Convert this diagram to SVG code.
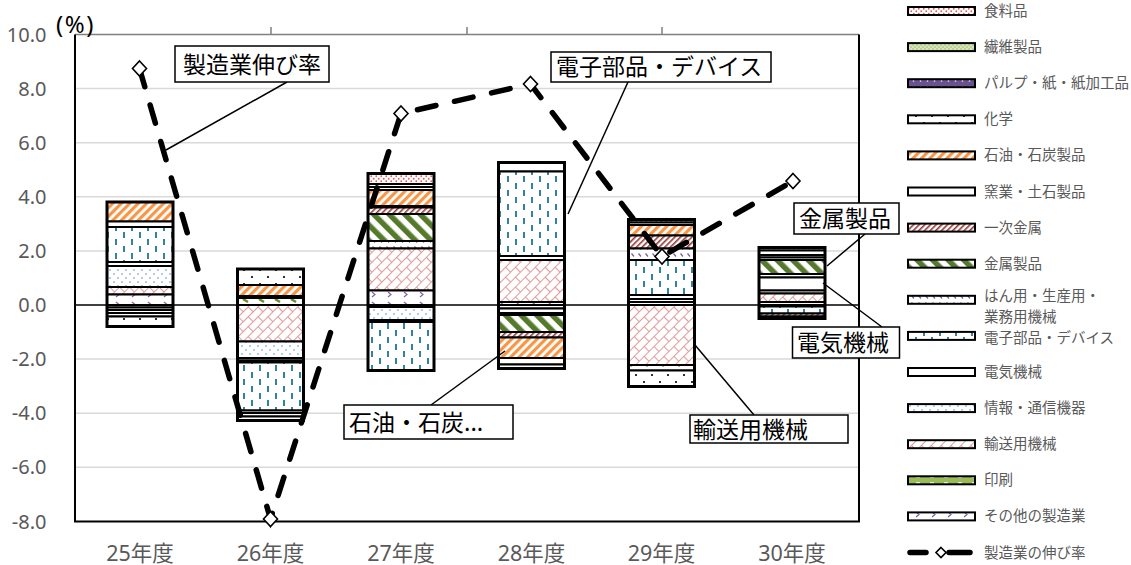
<svg xmlns="http://www.w3.org/2000/svg" width="1131" height="565" viewBox="0 0 1131 565">
<style>
.seg{stroke:#000;stroke-width:2}
.outline{fill:none;stroke:#000;stroke-width:3}
.grid{stroke:#d9d9d9;stroke-width:1.5}
.ax{font-family:"Noto Sans","Noto Sans CJK JP",sans-serif;font-size:20px;fill:#595959}
.xl{font-family:"Noto Sans","Noto Sans CJK JP",sans-serif;font-size:21.5px;fill:#595959;text-anchor:middle}
.lbl{font-family:"Noto Sans CJK JP",sans-serif;font-size:23px;fill:#000}
.box{fill:#fff;stroke:#000;stroke-width:1.5}
.leader{stroke:#000;stroke-width:1.5;fill:none}
.leg{font-family:"Noto Sans CJK JP",sans-serif;font-size:14.5px;fill:#595959}
.sw{stroke:#000;stroke-width:2}
.mk{fill:#fff;stroke:#000;stroke-width:1.6}
.w{fill:#fff}
</style>
<defs>
<pattern id="p-food" width="5" height="5" patternUnits="userSpaceOnUse"><rect width="5" height="5" fill="#fff"/><circle cx="1.25" cy="1.25" r="0.9" fill="#e35d5d"/><circle cx="3.75" cy="3.75" r="0.9" fill="#e35d5d"/></pattern>
<pattern id="p-fiber" width="4" height="4" patternUnits="userSpaceOnUse"><rect width="4" height="4" fill="#d7e4bd"/><circle cx="1" cy="1" r="0.8" fill="#9bbb59"/><circle cx="3" cy="3" r="0.8" fill="#9bbb59"/></pattern>
<pattern id="p-pulp" width="7" height="6" patternUnits="userSpaceOnUse"><rect width="7" height="6" fill="#6a5290"/><circle cx="3.5" cy="3" r="0.8" fill="#fff"/></pattern>
<pattern id="p-chem" width="16" height="14" patternUnits="userSpaceOnUse"><rect width="16" height="14" fill="#fff"/><circle cx="4" cy="4" r="1.1" fill="#000"/><circle cx="12" cy="11" r="1.1" fill="#000"/></pattern>
<pattern id="p-oil" width="6" height="6" patternUnits="userSpaceOnUse" patternTransform="rotate(45)"><rect width="6" height="6" fill="#fff"/><rect width="3.2" height="6" fill="#f79646"/></pattern>
<pattern id="p-prim" width="4" height="4" patternUnits="userSpaceOnUse" patternTransform="rotate(45)"><rect width="4" height="4" fill="#fff"/><rect width="1.6" height="4" fill="#963634"/></pattern>
<pattern id="p-metal" width="11" height="11" patternUnits="userSpaceOnUse" patternTransform="rotate(-45)"><rect width="11" height="11" fill="#fff"/><rect width="5.5" height="11" fill="#557a2c"/></pattern>
<pattern id="p-gen" width="7" height="7" patternUnits="userSpaceOnUse"><rect width="7" height="7" fill="#fff"/><path d="M1.5 1.5L4 4.5" stroke="#7560a0" stroke-width="1.2"/></pattern>
<pattern id="p-elec" width="16" height="14" patternUnits="userSpaceOnUse"><rect width="16" height="14" fill="#fff"/><rect x="3" y="1" width="2" height="6" fill="#31849b"/><rect x="11" y="8" width="2" height="6" fill="#31849b"/></pattern>
<pattern id="p-info" width="8" height="8" patternUnits="userSpaceOnUse"><rect width="8" height="8" fill="#fff"/><circle cx="2" cy="2" r="0.9" fill="#8eb4e3"/><circle cx="6" cy="6" r="0.9" fill="#8eb4e3"/></pattern>
<pattern id="p-trans" width="14" height="14" patternUnits="userSpaceOnUse" patternTransform="rotate(-45)"><rect width="14" height="14" fill="#fff"/><path d="M0 0.5H14M0 7.5H14M0.5 0.5V7.5M7.5 7.5V14" stroke="#e29a9a" stroke-width="1.1" fill="none"/></pattern>
<pattern id="p-print" width="16" height="8" patternUnits="userSpaceOnUse"><rect width="16" height="8" fill="#fff"/><path d="M3 3L8 6" stroke="#6b8a32" stroke-width="2.5"/></pattern>
<pattern id="p-print-leg" width="14" height="8" patternUnits="userSpaceOnUse"><rect width="14" height="8" fill="#9bbb59"/><rect x="6" y="2" width="4" height="4" fill="#e6eed5"/></pattern>
<pattern id="p-other" width="16" height="10" patternUnits="userSpaceOnUse"><rect width="16" height="10" fill="#fff"/><path d="M4 2L7 4.5L4 7" fill="none" stroke="#8064a2" stroke-width="1.2"/></pattern>
</defs>

<rect width="1131" height="565" fill="#fff"/>

<g id="plot-area">
<g id="gridlines">
<line class="grid" x1="75" y1="88.6" x2="859" y2="88.6"/>
<line class="grid" x1="75" y1="142.7" x2="859" y2="142.7"/>
<line class="grid" x1="75" y1="196.8" x2="859" y2="196.8"/>
<line class="grid" x1="75" y1="250.9" x2="859" y2="250.9"/>
<line class="grid" x1="75" y1="359.1" x2="859" y2="359.1"/>
<line class="grid" x1="75" y1="413.2" x2="859" y2="413.2"/>
<line class="grid" x1="75" y1="467.3" x2="859" y2="467.3"/>
</g>
<g id="frame">
<line x1="75" y1="34.5" x2="859" y2="34.5" stroke="#808080" stroke-width="1.5"/>
<path d="M271 27V34.5M467 27V34.5M662 27V34.5" stroke="#808080" stroke-width="1.5"/>
<path d="M75 34.5V521.4H859V34.5" fill="none" stroke="#000" stroke-width="2"/>
<line x1="75" y1="305" x2="859" y2="305" stroke="#000" stroke-width="1.5"/>
</g>
<g id="y-axis-labels" class="ax" text-anchor="end">
<text x="46.5" y="42">10.0</text>
<text x="46.5" y="96">8.0</text>
<text x="46.5" y="150">6.0</text>
<text x="46.5" y="204">4.0</text>
<text x="46.5" y="258">2.0</text>
<text x="46.5" y="312">0.0</text>
<text x="46.5" y="366">-2.0</text>
<text x="46.5" y="420">-4.0</text>
<text x="46.5" y="474">-6.0</text>
<text x="46.5" y="528.5">-8.0</text>
</g>
<text id="unit" x="56" y="33" font-family="Noto Sans, Noto Sans CJK JP, sans-serif" font-size="24" letter-spacing="1.5" fill="#000">(%)</text>
<g id="x-axis-labels" class="xl">
<text x="140" y="561">25年度</text>
<text x="270.5" y="561">26年度</text>
<text x="401" y="561">27年度</text>
<text x="531.5" y="561">28年度</text>
<text x="661.5" y="561">29年度</text>
<text x="792" y="561">30年度</text>
</g>
</g>

<g id="bar-25">
<rect class="seg" x="107" y="202" width="66" height="19.5" fill="url(#p-oil)"/>
<rect class="seg w" x="107" y="221.5" width="66" height="5.5"/>
<rect class="seg" x="107" y="227" width="66" height="35" fill="url(#p-elec)"/>
<rect class="seg w" x="107" y="262" width="66" height="4"/>
<rect class="seg" x="107" y="266" width="66" height="21" fill="url(#p-info)"/>
<rect class="seg" x="107" y="287" width="66" height="7.5" fill="url(#p-trans)"/>
<rect class="seg" x="107" y="294.5" width="66" height="10.5" fill="url(#p-other)"/>
<rect class="seg" x="107" y="305" width="66" height="2.5" fill="url(#p-print)"/>
<rect class="seg w" x="107" y="307.5" width="66" height="2.5"/>
<rect class="seg w" x="107" y="310" width="66" height="3"/>
<rect class="seg w" x="107" y="313" width="66" height="3.5"/>
<rect class="seg" x="107" y="316.5" width="66" height="10" fill="url(#p-chem)"/>
<rect class="outline" x="107" y="202" width="66" height="124.5"/>
</g>

<g id="bar-26">
<rect class="seg" x="237.5" y="269" width="66" height="16" fill="url(#p-chem)"/>
<rect class="seg" x="237.5" y="285" width="66" height="11" fill="url(#p-oil)"/>
<rect class="seg w" x="237.5" y="296" width="66" height="2"/>
<rect class="seg" x="237.5" y="298" width="66" height="7" fill="url(#p-print)"/>
<rect class="seg" x="237.5" y="305" width="66" height="36.5" fill="url(#p-trans)"/>
<rect class="seg" x="237.5" y="341.5" width="66" height="16.5" fill="url(#p-info)"/>
<rect class="seg w" x="237.5" y="358" width="66" height="2.5"/>
<rect class="seg w" x="237.5" y="360.5" width="66" height="2"/>
<rect class="seg" x="237.5" y="362.5" width="66" height="48" fill="url(#p-elec)"/>
<rect class="seg w" x="237.5" y="410.5" width="66" height="2.5"/>
<rect class="seg w" x="237.5" y="413" width="66" height="3.5"/>
<rect class="seg w" x="237.5" y="416.5" width="66" height="4"/>
<rect class="outline" x="237.5" y="269" width="66" height="151.5"/>
</g>

<g id="bar-27">
<rect class="seg" x="368" y="173.5" width="66" height="10.5" fill="url(#p-food)"/>
<rect class="seg w" x="368" y="184" width="66" height="3"/>
<rect class="seg w" x="368" y="187" width="66" height="3"/>
<rect class="seg" x="368" y="190" width="66" height="16" fill="url(#p-oil)"/>
<rect class="seg w" x="368" y="206" width="66" height="1.5"/>
<rect class="seg" x="368" y="207.5" width="66" height="6.5" fill="url(#p-prim)"/>
<rect class="seg" x="368" y="214" width="66" height="27" fill="url(#p-metal)"/>
<rect class="seg" x="368" y="241" width="66" height="7.5" fill="url(#p-gen)"/>
<rect class="seg" x="368" y="248.5" width="66" height="42" fill="url(#p-trans)"/>
<rect class="seg" x="368" y="290.5" width="66" height="14.5" fill="url(#p-other)"/>
<rect class="seg w" x="368" y="305" width="66" height="2"/>
<rect class="seg" x="368" y="307" width="66" height="13" fill="url(#p-info)"/>
<rect class="seg w" x="368" y="320" width="66" height="2"/>
<rect class="seg" x="368" y="322" width="66" height="48.5" fill="url(#p-elec)"/>
<rect class="outline" x="368" y="173.5" width="66" height="197"/>
</g>

<g id="bar-28">
<rect class="seg w" x="498.5" y="162.5" width="66" height="9"/>
<rect class="seg" x="498.5" y="171.5" width="66" height="84.5" fill="url(#p-elec)"/>
<rect class="seg w" x="498.5" y="256" width="66" height="4"/>
<rect class="seg" x="498.5" y="260" width="66" height="42" fill="url(#p-trans)"/>
<rect class="seg" x="498.5" y="302" width="66" height="3" fill="url(#p-other)"/>
<rect class="seg w" x="498.5" y="305" width="66" height="3.5"/>
<rect class="seg w" x="498.5" y="308.5" width="66" height="4.5"/>
<rect class="seg w" x="498.5" y="313" width="66" height="2"/>
<rect class="seg" x="498.5" y="315" width="66" height="17" fill="url(#p-metal)"/>
<rect class="seg" x="498.5" y="332" width="66" height="5.5" fill="url(#p-prim)"/>
<rect class="seg" x="498.5" y="337.5" width="66" height="20.5" fill="url(#p-oil)"/>
<rect class="seg w" x="498.5" y="358" width="66" height="6.5"/>
<rect class="seg w" x="498.5" y="364.5" width="66" height="4"/>
<rect class="outline" x="498.5" y="162.5" width="66" height="206"/>
</g>

<g id="bar-29">
<rect class="seg" x="628.5" y="219.5" width="66" height="3" fill="url(#p-food)"/>
<rect class="seg w" x="628.5" y="222.5" width="66" height="2.5"/>
<rect class="seg" x="628.5" y="225" width="66" height="10.5" fill="url(#p-oil)"/>
<rect class="seg" x="628.5" y="235.5" width="66" height="13" fill="url(#p-prim)"/>
<rect class="seg" x="628.5" y="248.5" width="66" height="11.5" fill="url(#p-gen)"/>
<rect class="seg" x="628.5" y="260" width="66" height="35" fill="url(#p-elec)"/>
<rect class="seg w" x="628.5" y="295" width="66" height="4"/>
<rect class="seg w" x="628.5" y="299" width="66" height="3"/>
<rect class="seg w" x="628.5" y="302" width="66" height="3"/>
<rect class="seg" x="628.5" y="305" width="66" height="60" fill="url(#p-trans)"/>
<rect class="seg" x="628.5" y="365" width="66" height="5.5" fill="url(#p-print)"/>
<rect class="seg" x="628.5" y="370.5" width="66" height="16" fill="url(#p-chem)"/>
<rect class="outline" x="628.5" y="219.5" width="66" height="167"/>
</g>

<g id="bar-30">
<rect class="seg" x="759" y="247.5" width="66" height="3" fill="url(#p-food)"/>
<rect class="seg" x="759" y="250.5" width="66" height="4.5" fill="url(#p-chem)"/>
<rect class="seg w" x="759" y="255" width="66" height="2.5"/>
<rect class="seg w" x="759" y="257.5" width="66" height="2.5"/>
<rect class="seg" x="759" y="260" width="66" height="14" fill="url(#p-metal)"/>
<rect class="seg w" x="759" y="274" width="66" height="3.5"/>
<rect class="seg w" x="759" y="277.5" width="66" height="13"/>
<rect class="seg w" x="759" y="290.5" width="66" height="3"/>
<rect class="seg" x="759" y="293.5" width="66" height="8.5" fill="url(#p-trans)"/>
<rect class="seg w" x="759" y="302" width="66" height="3"/>
<rect class="seg w" x="759" y="305" width="66" height="1.5"/>
<rect class="seg" x="759" y="306.5" width="66" height="7" fill="url(#p-elec)"/>
<rect class="seg" x="759" y="313.5" width="66" height="3" fill="url(#p-prim)"/>
<rect class="seg w" x="759" y="316.5" width="66" height="2"/>
<rect class="outline" x="759" y="247.5" width="66" height="71"/>
</g>

<g id="series-growth">
<polyline points="139.5,68.5 270.5,519 401,113.5 530.5,84 662,256.5 793,181" fill="none" stroke="#000" stroke-width="5.5" stroke-linecap="round" stroke-dasharray="19 19"/>
<path class="mk" d="M139.5 61l7 7.5-7 7.5-7-7.5z"/>
<path class="mk" d="M270.5 511.5l7 7.5-7 7.5-7-7.5z"/>
<path class="mk" d="M401 106l7 7.5-7 7.5-7-7.5z"/>
<path class="mk" d="M530.5 76.5l7 7.5-7 7.5-7-7.5z"/>
<path class="mk" d="M662 249l7 7.5-7 7.5-7-7.5z"/>
<path class="mk" d="M793 173.5l7 7.5-7 7.5-7-7.5z"/>
</g>

<g id="connectors">
<line class="leader" x1="287" y1="82" x2="166" y2="150"/>
<line class="leader" x1="628" y1="82" x2="568" y2="214"/>
<line class="leader" x1="431" y1="405" x2="505" y2="351"/>
<line class="leader" x1="754" y1="415" x2="695" y2="345"/>
<line class="leader" x1="827" y1="266" x2="865" y2="234"/>
<line class="leader" x1="823" y1="283" x2="882" y2="327"/>
</g>

<g id="label-growth"><rect class="box" x="175" y="46" width="154" height="36"/><text class="lbl" x="252" y="72.5" text-anchor="middle">製造業伸び率</text></g>
<g id="label-elec"><rect class="box" x="551" y="52" width="220" height="30"/><text class="lbl" x="556" y="75" font-size="21.5">電子部品・デバイス</text></g>
<g id="label-oil"><rect class="box" x="344" y="405" width="169" height="34"/><text class="lbl" x="349" y="430.5" font-size="21.5">石油・石炭...</text></g>
<g id="label-trans"><rect class="box" x="690" y="415" width="158" height="28"/><text class="lbl" x="693" y="437.5">輸送用機械</text></g>
<g id="label-metal"><rect class="box" x="794" y="203" width="105" height="31"/><text class="lbl" x="799" y="227">金属製品</text></g>
<g id="label-electric"><rect class="box" x="792.5" y="327" width="107" height="31"/><text class="lbl" x="797" y="351">電気機械</text></g>

<g id="legend">
<g id="leg-food"><rect class="sw" x="908" y="7" width="67" height="8" fill="url(#p-food)"/><text class="leg" x="984" y="16">食料品</text></g>
<g id="leg-fiber"><rect class="sw" x="908" y="43.1" width="67" height="8" fill="url(#p-fiber)"/><text class="leg" x="984" y="52.1">繊維製品</text></g>
<g id="leg-pulp"><rect class="sw" x="908" y="79.2" width="67" height="8" fill="url(#p-pulp)"/><text class="leg" x="984" y="88.2">パルプ・紙・紙加工品</text></g>
<g id="leg-chem"><rect class="sw" x="908" y="115.3" width="67" height="8" fill="url(#p-chem)"/><text class="leg" x="984" y="124.3">化学</text></g>
<g id="leg-oil"><rect class="sw" x="908" y="151.4" width="67" height="8" fill="url(#p-oil)"/><text class="leg" x="984" y="160.4">石油・石炭製品</text></g>
<g id="leg-ceramic"><rect class="sw" x="908" y="187.5" width="67" height="8" fill="#fff"/><text class="leg" x="984" y="196.5">窯業・土石製品</text></g>
<g id="leg-prim"><rect class="sw" x="908" y="223.6" width="67" height="8" fill="url(#p-prim)"/><text class="leg" x="984" y="232.6">一次金属</text></g>
<g id="leg-metal"><rect class="sw" x="908" y="259.7" width="67" height="8" fill="url(#p-metal)"/><text class="leg" x="984" y="268.7">金属製品</text></g>
<g id="leg-gen"><rect class="sw" x="908" y="295.8" width="67" height="8" fill="url(#p-gen)"/><text class="leg" x="984" y="301">はん用・生産用・</text><text class="leg" x="984" y="322">業務用機械</text></g>
<g id="leg-elec"><rect class="sw" x="908" y="331.9" width="67" height="8" fill="url(#p-elec)"/><text class="leg" x="984" y="343">電子部品・デバイス</text></g>
<g id="leg-electric"><rect class="sw" x="908" y="368" width="67" height="8" fill="#fff"/><text class="leg" x="984" y="377">電気機械</text></g>
<g id="leg-info"><rect class="sw" x="908" y="404.1" width="67" height="8" fill="url(#p-info)"/><text class="leg" x="984" y="413.1">情報・通信機器</text></g>
<g id="leg-trans"><rect class="sw" x="908" y="440.2" width="67" height="8" fill="url(#p-trans)"/><text class="leg" x="984" y="449.2">輸送用機械</text></g>
<g id="leg-print"><rect class="sw" x="908" y="476.3" width="67" height="8" fill="url(#p-print-leg)"/><text class="leg" x="984" y="485.3">印刷</text></g>
<g id="leg-other"><rect class="sw" x="908" y="512.4" width="67" height="8" fill="url(#p-other)"/><text class="leg" x="984" y="521.4">その他の製造業</text></g>
<g id="leg-growth"><path d="M910 552.5H926M949 552.5H970" stroke="#000" stroke-width="5.5" stroke-linecap="round"/><path class="mk" d="M941 547.5l5 5-5 5-5-5z" stroke-width="1.4"/><text class="leg" x="984" y="557.5">製造業の伸び率</text></g>
</g>
</svg>
